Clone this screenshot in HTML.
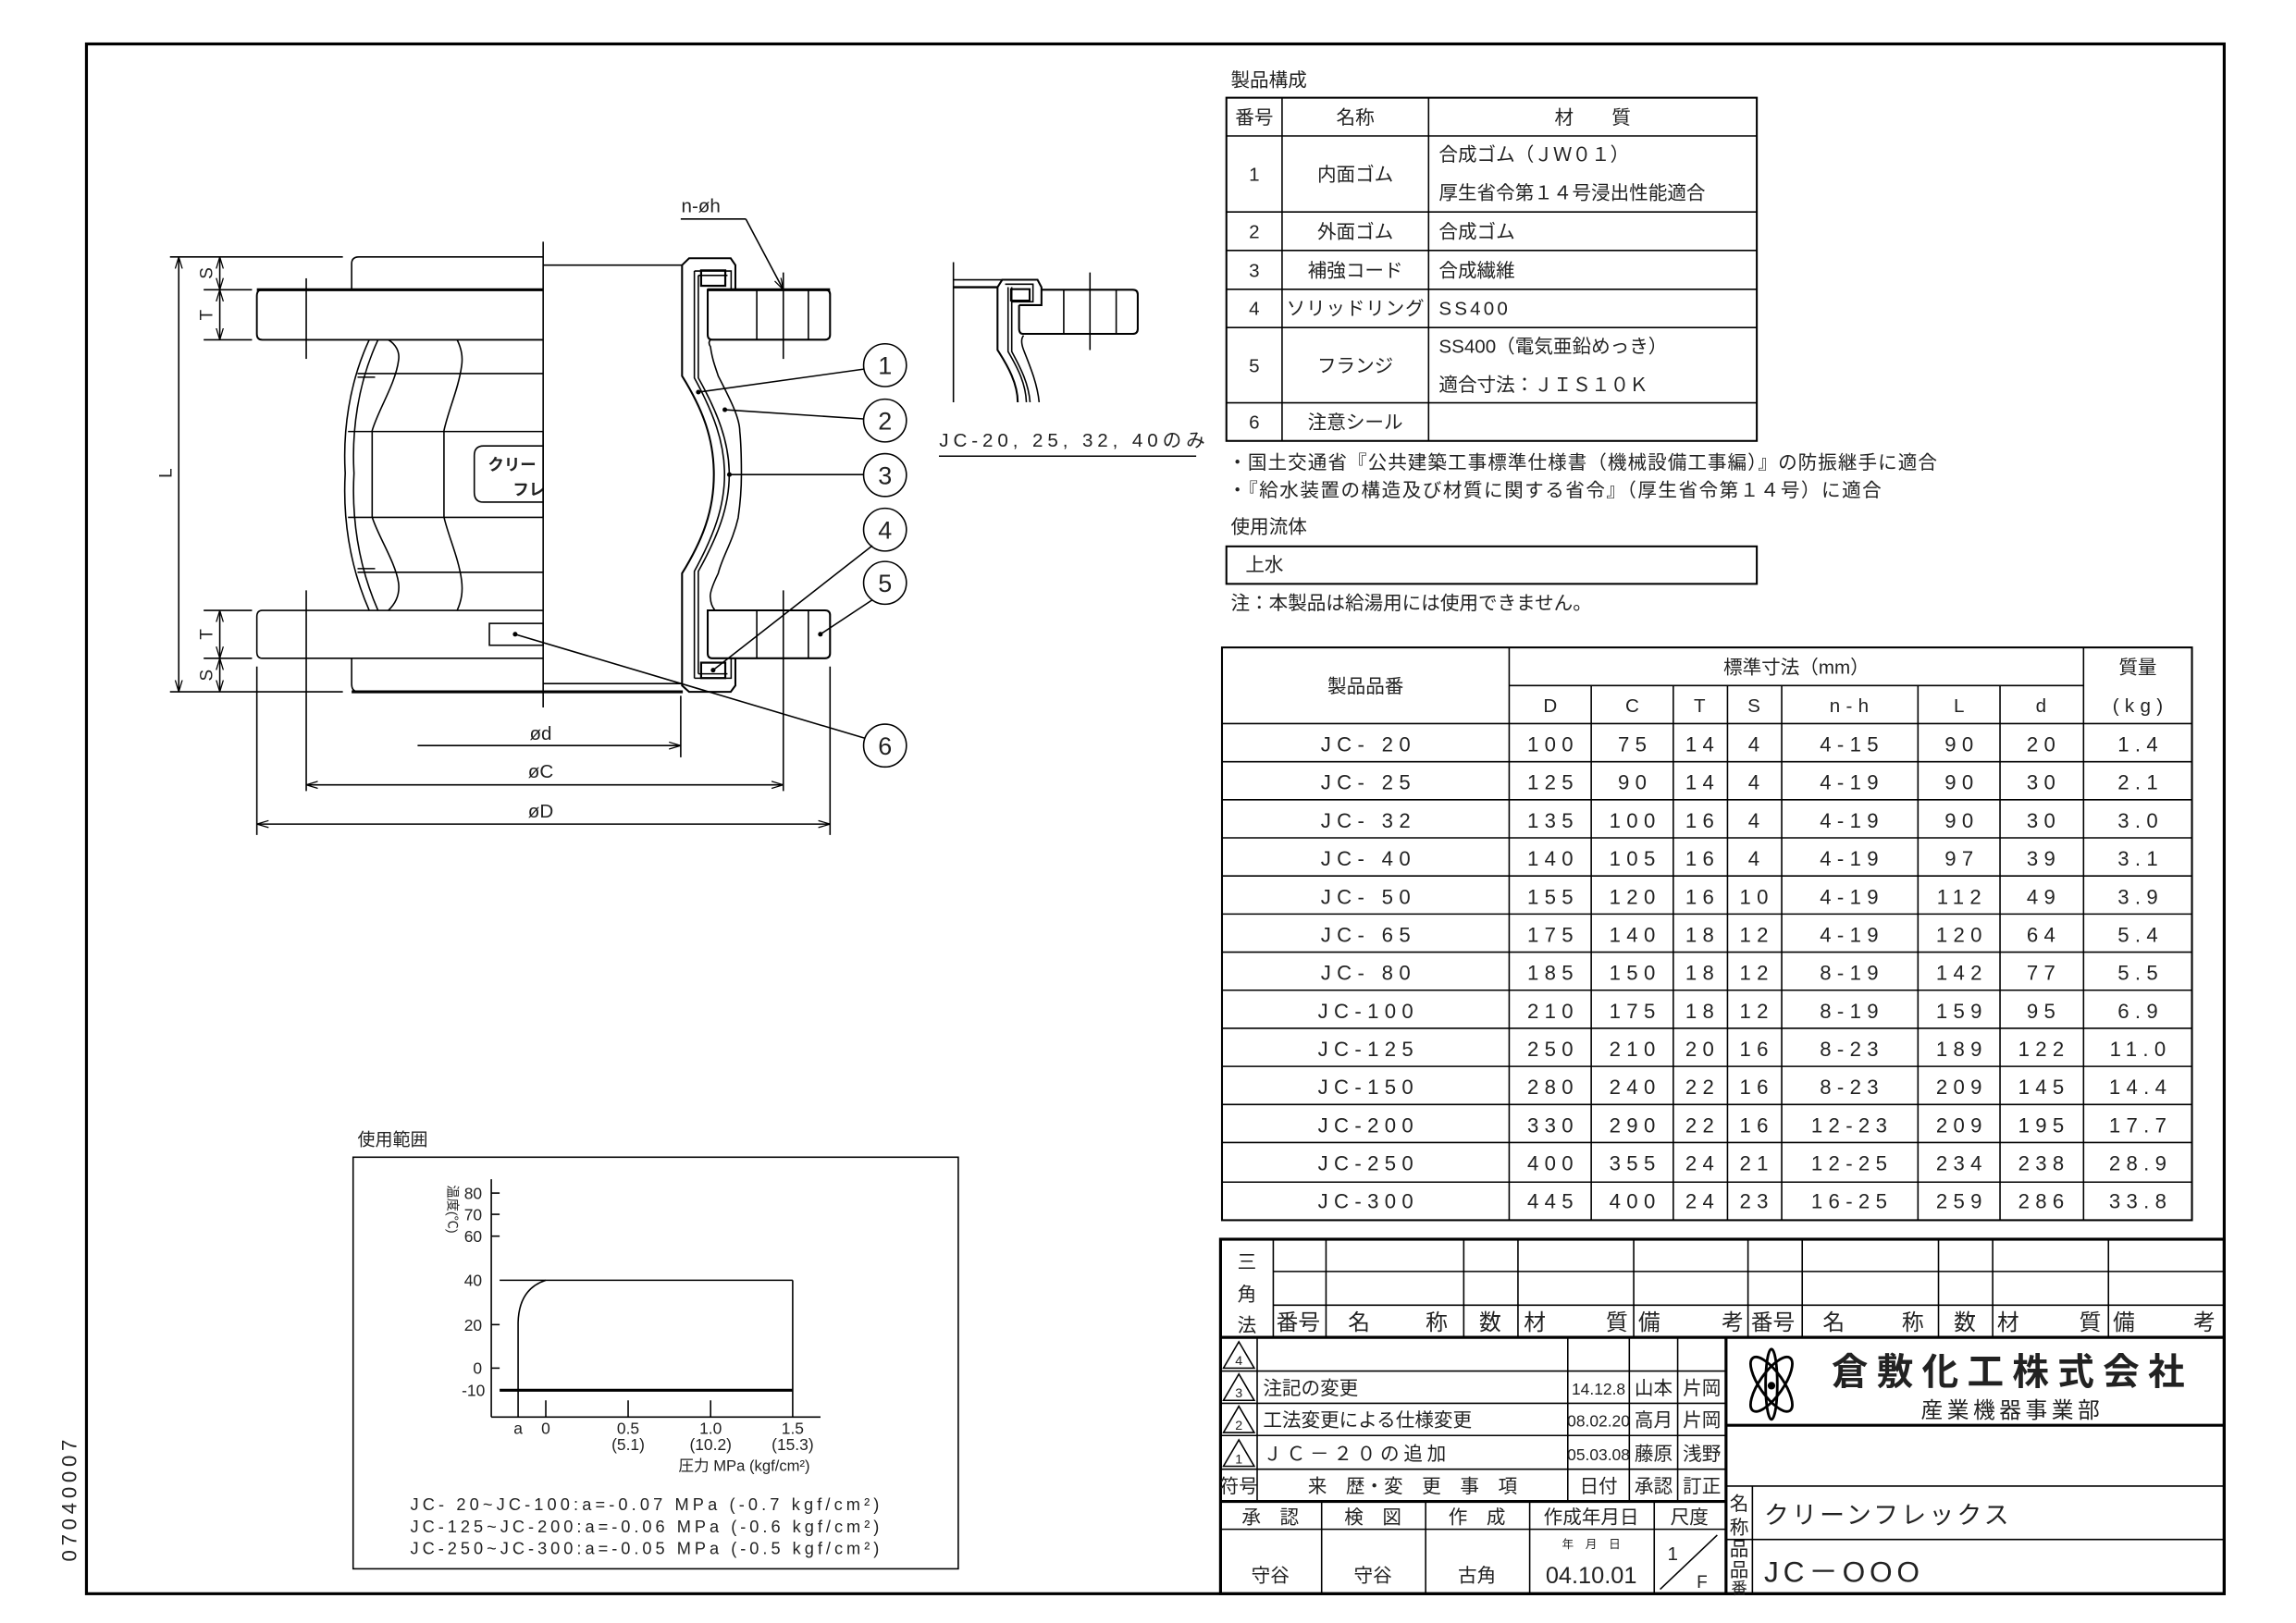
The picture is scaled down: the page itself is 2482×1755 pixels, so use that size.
<!DOCTYPE html>
<html><head><meta charset="utf-8">
<style>
html,body{margin:0;padding:0;background:#fff;}
svg{display:block;}
text{font-family:"Liberation Sans","Noto Sans CJK JP",sans-serif;fill:#222;}
.j{font-size:13px;}
.n{font-size:14px;letter-spacing:4px;text-anchor:middle;}
.c{text-anchor:middle;}
</style></head><body>
<svg width="2482" height="1755" viewBox="0 0 1567 1108" preserveAspectRatio="none" xmlns="http://www.w3.org/2000/svg">
<defs>
<marker id="ar" viewBox="0 0 10 10" refX="10" refY="5" markerWidth="8" markerHeight="8" orient="auto-start-reverse" markerUnits="userSpaceOnUse"><path d="M0,2 L10,5 L0,8" fill="none" stroke="#000" stroke-width="1"/></marker>
</defs>
<rect x="0" y="0" width="1567" height="1108" fill="#fff"/>
<!-- frame -->
<rect x="59" y="30" width="1459" height="1058" fill="none" stroke="#000" stroke-width="2"/>
<text transform="translate(52,1066) rotate(-90)" style="font-size:14px;letter-spacing:3px">07040007</text>

<!-- ===== main drawing ===== -->
<g fill="none" stroke="#000" stroke-width="1">
<line x1="370.7" y1="165" x2="370.7" y2="483"/>
<path d="M240,198 L240,180 Q240,175.4 245,175.4 L370.7,175.4"/>
<path d="M370.7,197.8 L179,197.8 Q175.3,197.8 175.3,202 L175.3,228 Q175.3,232 179,232 L370.7,232" stroke-width="1.2"/>
<line x1="175.3" y1="197.8" x2="370.7" y2="197.8" stroke-width="2"/>
<path d="M370.7,416.7 L179,416.7 Q175.3,416.7 175.3,421 L175.3,445 Q175.3,449.4 179,449.4 L370.7,449.4"/>
<path d="M240,449.4 L240,467 Q240,472.3 245,472.3 L370.7,472.3"/>
<line x1="240" y1="472.3" x2="466" y2="472.3" stroke-width="2"/>
<!-- bellows outline -->
<path d="M252,232 C238,262 234,295 235.6,323 C234,352 238,385 252,416.7"/>
<path d="M258,232 C244,262 240,295 241.6,323 C240,352 244,385 258,416.7"/>
<path d="M265,232 C270,235 273,240 272,246 C270,262 258,280 254,294 L254,353 C258,366 270,384 272,398 C273,406 270,412 265,416.7"/>
<path d="M312,232 C315,238 316,244 315,250 C313,265 306,280 303,294 L303,353 C306,366 313,381 315,396 C316,404 315,410 312,416.7"/>
<path d="M244,255 L370.7,255 M244,257.5 L256,257.5"/>
<path d="M237.5,294.6 L370.7,294.6"/>
<path d="M237.5,353.2 L370.7,353.2"/>
<path d="M244,390.7 L370.7,390.7 M244,388.2 L256,388.2"/>
<path d="M370.7,304.4 L330,304.4 Q323.7,304.4 323.7,311 L323.7,336 Q323.7,342.8 330,342.8 L370.7,342.8"/>
<rect x="334" y="425.6" width="36.7" height="14.9"/>
<line x1="370.7" y1="181" x2="465.5" y2="181"/>
<line x1="370.7" y1="466.7" x2="465.5" y2="466.7"/>
<path d="M465.5,181 L465.5,256.7 C480,280 487.2,300 487.2,324 C487.2,348 480,368 465.5,391.4 L465.5,468 L470.3,472.3 L498.7,472.3 L501.9,468 L501.9,449.4" stroke-width="1.3"/>
<path d="M465.5,181 L470.3,176.3 L498.7,176.3 L501.9,181 L501.9,197.8" stroke-width="1.3"/>
<path d="M484.9,232 Q483,234 484.9,236.7 C486,245 488,250 490.2,256.7 C498,272 504.9,285 504.9,294.6 C506,305 506,315 506,324 C506,335 505,345 503.8,353.5 C500,370 493,380 490.2,391.4 C487,398 484,405 484.9,408.3 Q485,413 488,416.7"/>
<path d="M473.9,185 L473.9,258 C487,282 494.5,302 494.5,324 C494.5,346 487,366 473.9,390 L473.9,463"/>
<path d="M476.6,188 L476.6,258 C490,282 497.7,302 497.7,324 C497.7,346 490,366 476.6,390 L476.6,460"/>
<path d="M473.9,185 L499,185 L499,197.8 M476.6,188 L496.5,188"/>
<path d="M473.9,463 L499,463 L499,449.4 M476.6,460 L496.5,460"/>
<rect x="478.5" y="184.6" width="16.5" height="10.5" stroke-width="1.4"/>
<rect x="478.5" y="452.4" width="16.5" height="10.5" stroke-width="1.4"/>
<path d="M483,197.8 L563,197.8 Q566.5,197.8 566.5,201 L566.5,228.5 Q566.5,231.9 563,231.9 L486,231.9 Q483,231.9 483,228.5 Z" stroke-width="1.3"/>
<line x1="483" y1="197.8" x2="566.5" y2="197.8" stroke-width="2"/>
<line x1="516.5" y1="197.8" x2="516.5" y2="231.9"/>
<line x1="551.7" y1="197.8" x2="551.7" y2="231.9"/>
<path d="M483,416.7 L563,416.7 Q566.5,416.7 566.5,420 L566.5,446 Q566.5,449.4 563,449.4 L486,449.4 Q483,449.4 483,446 Z" stroke-width="1.3"/>
<line x1="516.5" y1="416.7" x2="516.5" y2="449.4"/>
<line x1="551.7" y1="416.7" x2="551.7" y2="449.4"/>
<line x1="534.6" y1="186" x2="534.6" y2="245"/>
<line x1="534.6" y1="403" x2="534.6" y2="540"/>
<line x1="209" y1="190" x2="209" y2="245"/>
<line x1="209" y1="403" x2="209" y2="540"/>
<line x1="175.3" y1="455" x2="175.3" y2="570"/>
<line x1="566.5" y1="455" x2="566.5" y2="570"/>
<line x1="464.6" y1="475" x2="464.6" y2="517"/>
<line x1="285" y1="509" x2="464.6" y2="509" marker-end="url(#ar)"/>
<line x1="209" y1="535.8" x2="534.6" y2="535.8" marker-start="url(#ar)" marker-end="url(#ar)"/>
<line x1="175.3" y1="562.6" x2="566.5" y2="562.6" marker-start="url(#ar)" marker-end="url(#ar)"/>
<line x1="116" y1="175.4" x2="234" y2="175.4"/>
<line x1="116" y1="472.3" x2="234" y2="472.3"/>
<line x1="139" y1="197.8" x2="172" y2="197.8"/>
<line x1="139" y1="232" x2="172" y2="232"/>
<line x1="139" y1="416.7" x2="172" y2="416.7"/>
<line x1="139" y1="449.4" x2="172" y2="449.4"/>
<line x1="122" y1="175.4" x2="122" y2="472.3" marker-start="url(#ar)" marker-end="url(#ar)"/>
<line x1="150" y1="175.4" x2="150" y2="197.8" marker-start="url(#ar)" marker-end="url(#ar)"/>
<line x1="150" y1="197.8" x2="150" y2="232" marker-start="url(#ar)" marker-end="url(#ar)"/>
<line x1="150" y1="416.7" x2="150" y2="449.4" marker-start="url(#ar)" marker-end="url(#ar)"/>
<line x1="150" y1="449.4" x2="150" y2="472.3" marker-start="url(#ar)" marker-end="url(#ar)"/>
<line x1="464.6" y1="149.5" x2="509" y2="149.5"/>
<line x1="509" y1="149.5" x2="534.6" y2="197.8" marker-end="url(#ar)"/>
<circle cx="604" cy="249.3" r="14.6"/>
<circle cx="604" cy="287.1" r="14.6"/>
<circle cx="604" cy="324.3" r="14.6"/>
<circle cx="604" cy="361.6" r="14.6"/>
<circle cx="604" cy="397.9" r="14.6"/>
<circle cx="604" cy="509" r="14.6"/>
<line x1="589.6" y1="252" x2="476.6" y2="267.7"/>
<line x1="589.4" y1="286" x2="494.7" y2="279.7"/>
<line x1="589.4" y1="324" x2="497.8" y2="324"/>
<line x1="595.4" y1="372.5" x2="486.7" y2="457.5"/>
<line x1="595.4" y1="409.5" x2="559.9" y2="433"/>
<line x1="590" y1="503.9" x2="351.6" y2="433"/>
</g>
<g fill="#000">
<circle cx="476.6" cy="267.7" r="1.6"/><circle cx="494.7" cy="279.7" r="1.6"/><circle cx="497.8" cy="324" r="1.6"/>
<circle cx="486.7" cy="457.5" r="1.6"/><circle cx="559.9" cy="433" r="1.6"/><circle cx="351.6" cy="433" r="1.6"/>
</g>
<g style="font-size:17px" class="c">
<text x="604" y="255.5">1</text><text x="604" y="293.3">2</text><text x="604" y="330.5">3</text>
<text x="604" y="367.8">4</text><text x="604" y="404.1">5</text><text x="604" y="515.2">6</text>
</g>
<text x="333" y="321" style="font-size:11px;font-weight:bold">クリー</text>
<text x="350" y="338" style="font-size:11px;font-weight:bold">フレ</text>
<rect x="371.5" y="300" width="94" height="48" fill="#fff"/>
<line x1="370.7" y1="295" x2="370.7" y2="353" stroke="#000"/>
<text x="465" y="145" style="font-size:13px">n-øh</text>
<text x="369" y="505" class="c" style="font-size:13px">ød</text>
<text x="369" y="531" class="c" style="font-size:13px">øC</text>
<text x="369" y="558" class="c" style="font-size:13px">øD</text>
<g style="font-size:12px" class="c">
<text transform="translate(145,186.5) rotate(-90)">S</text>
<text transform="translate(145,215) rotate(-90)">T</text>
<text transform="translate(145,433) rotate(-90)">T</text>
<text transform="translate(145,461) rotate(-90)">S</text>
<text transform="translate(117,323) rotate(-90)">L</text>
</g>

<!-- detail view -->
<g fill="none" stroke="#000" stroke-width="1">
<line x1="650.7" y1="179" x2="650.7" y2="274.6"/>
<line x1="650.7" y1="191" x2="684" y2="191"/>
<line x1="650.7" y1="196.1" x2="680.8" y2="196.1" stroke-width="1.5"/>
<path d="M680.8,196.1 L684,191 L708.1,191 L710.8,196.1 L710.8,208.3 L695.5,208.3" stroke-width="1.3"/>
<path d="M710.8,197.8 L773,197.8 Q776.5,197.8 776.5,201 L776.5,224.5 Q776.5,227.9 773,227.9 L698,227.9 Q695.5,227.9 695.5,224 L695.5,208.3" stroke-width="1.3"/>
<line x1="726" y1="197.8" x2="726" y2="227.9"/>
<line x1="761.8" y1="197.8" x2="761.8" y2="227.9"/>
<line x1="743.9" y1="186" x2="743.9" y2="239"/>
<path d="M680.8,196.1 L680.8,238.9 C688,250 694.6,262 694.6,274.6" stroke-width="1.3"/>
<path d="M688,196 L688,240 C695,252 700,262 700.5,274.6 M690.5,196 L690.5,240 C697,252 702,262 703,274.6"/>
<path d="M686,194 L705,194 L705,206 L690.5,206"/>
<rect x="690" y="197.4" width="12.7" height="7.8" stroke-width="1.3"/>
<path d="M698.6,229 Q696,232 698.6,238.9 C703,250 708,262 709.2,274.6"/>
<line x1="640.8" y1="311.4" x2="816.4" y2="311.4"/>
</g>
<text x="641" y="305" style="font-size:13px;letter-spacing:3.1px">JC-20, 25, 32, 40のみ</text>

<!-- ===== parts table ===== -->
<text x="840" y="59" class="j">製品構成</text>
<g fill="none" stroke="#000" stroke-width="1">
<rect x="837" y="66.7" width="362" height="234.3" stroke-width="1.3"/>
<line x1="875" y1="66.7" x2="875" y2="301"/><line x1="975" y1="66.7" x2="975" y2="301"/>
<line x1="837" y1="92.8" x2="1199" y2="92.8"/><line x1="837" y1="144.7" x2="1199" y2="144.7"/>
<line x1="837" y1="171" x2="1199" y2="171"/><line x1="837" y1="197.5" x2="1199" y2="197.5"/>
<line x1="837" y1="223.6" x2="1199" y2="223.6"/><line x1="837" y1="275" x2="1199" y2="275"/>
<rect x="837" y="373" width="362" height="25.6" stroke-width="1.3"/>
</g>
<g class="j">
<text x="856" y="84.5" class="c">番号</text><text x="925" y="84.5" class="c">名称</text><text x="1087" y="84.5" class="c">材　　質</text>
<text x="856" y="123.5" class="c">1</text><text x="925" y="123.5" class="c">内面ゴム</text>
<text x="982" y="110">合成ゴム（ＪＷ０１）</text><text x="982" y="136">厚生省令第１４号浸出性能適合</text>
<text x="856" y="162.5" class="c">2</text><text x="925" y="162.5" class="c">外面ゴム</text><text x="982" y="162.5">合成ゴム</text>
<text x="856" y="189" class="c">3</text><text x="925" y="189" class="c">補強コード</text><text x="982" y="189">合成繊維</text>
<text x="856" y="215" class="c">4</text><text x="925" y="215" class="c" textLength="94">ソリッドリング</text><text x="982" y="215" style="letter-spacing:2px">SS400</text>
<text x="856" y="254" class="c">5</text><text x="925" y="254" class="c">フランジ</text>
<text x="982" y="241">SS400（電気亜鉛めっき）</text><text x="982" y="267">適合寸法：ＪＩＳ１０Ｋ</text>
<text x="856" y="292.5" class="c">6</text><text x="925" y="292.5" class="c">注意シール</text>
<text x="838" y="320" textLength="484">・国土交通省『公共建築工事標準仕様書（機械設備工事編）』の防振継手に適合</text>
<text x="838" y="339" textLength="446">・『給水装置の構造及び材質に関する省令』（厚生省令第１４号）に適合</text>
<text x="840" y="364">使用流体</text>
<text x="850" y="390">上水</text>
<text x="840" y="416">注：本製品は給湯用には使用できません。</text>
</g>

<!-- ===== dimension table ===== -->
<g fill="none" stroke="#000" stroke-width="1">
<rect x="834" y="442" width="662" height="391" stroke-width="1.3"/>
<line x1="1030" y1="442" x2="1030" y2="833"/>
<line x1="1422" y1="442" x2="1422" y2="833"/>
<line x1="1030" y1="468" x2="1422" y2="468"/>
<line x1="1086" y1="468" x2="1086" y2="833"/><line x1="1142" y1="468" x2="1142" y2="833"/>
<line x1="1179" y1="468" x2="1179" y2="833"/><line x1="1216" y1="468" x2="1216" y2="833"/>
<line x1="1309" y1="468" x2="1309" y2="833"/><line x1="1365" y1="468" x2="1365" y2="833"/>
<line x1="834" y1="494" x2="1496" y2="494"/><line x1="834" y1="520" x2="1496" y2="520"/>
<line x1="834" y1="546" x2="1496" y2="546"/><line x1="834" y1="572" x2="1496" y2="572"/>
<line x1="834" y1="598" x2="1496" y2="598"/><line x1="834" y1="624" x2="1496" y2="624"/>
<line x1="834" y1="650" x2="1496" y2="650"/><line x1="834" y1="676" x2="1496" y2="676"/>
<line x1="834" y1="702" x2="1496" y2="702"/><line x1="834" y1="728" x2="1496" y2="728"/>
<line x1="834" y1="754" x2="1496" y2="754"/><line x1="834" y1="780" x2="1496" y2="780"/>
<line x1="834" y1="807" x2="1496" y2="807"/>
</g>
<g class="j c">
<text x="932" y="473">製品品番</text>
<text x="1226" y="460">標準寸法（mm）</text>
<text x="1459" y="460">質量</text>
</g>
<g class="n" style="font-size:13px">
<text x="1060" y="486">D</text><text x="1116" y="486">C</text><text x="1162" y="486">T</text><text x="1199" y="486">S</text>
<text x="1264" y="486">n-h</text><text x="1339" y="486">L</text><text x="1395" y="486">d</text><text x="1461" y="486">(kg)</text>
</g>
<g class="n">
<text x="934" y="513">JC- 20</text><text x="1060" y="513">100</text><text x="1116" y="513">75</text><text x="1162" y="513">14</text><text x="1199" y="513">4</text><text x="1264" y="513">4-15</text><text x="1339" y="513">90</text><text x="1395" y="513">20</text><text x="1461" y="513">1.4</text>
<text x="934" y="539">JC- 25</text><text x="1060" y="539">125</text><text x="1116" y="539">90</text><text x="1162" y="539">14</text><text x="1199" y="539">4</text><text x="1264" y="539">4-19</text><text x="1339" y="539">90</text><text x="1395" y="539">30</text><text x="1461" y="539">2.1</text>
<text x="934" y="565">JC- 32</text><text x="1060" y="565">135</text><text x="1116" y="565">100</text><text x="1162" y="565">16</text><text x="1199" y="565">4</text><text x="1264" y="565">4-19</text><text x="1339" y="565">90</text><text x="1395" y="565">30</text><text x="1461" y="565">3.0</text>
<text x="934" y="591">JC- 40</text><text x="1060" y="591">140</text><text x="1116" y="591">105</text><text x="1162" y="591">16</text><text x="1199" y="591">4</text><text x="1264" y="591">4-19</text><text x="1339" y="591">97</text><text x="1395" y="591">39</text><text x="1461" y="591">3.1</text>
<text x="934" y="617">JC- 50</text><text x="1060" y="617">155</text><text x="1116" y="617">120</text><text x="1162" y="617">16</text><text x="1199" y="617">10</text><text x="1264" y="617">4-19</text><text x="1339" y="617">112</text><text x="1395" y="617">49</text><text x="1461" y="617">3.9</text>
<text x="934" y="643">JC- 65</text><text x="1060" y="643">175</text><text x="1116" y="643">140</text><text x="1162" y="643">18</text><text x="1199" y="643">12</text><text x="1264" y="643">4-19</text><text x="1339" y="643">120</text><text x="1395" y="643">64</text><text x="1461" y="643">5.4</text>
<text x="934" y="669">JC- 80</text><text x="1060" y="669">185</text><text x="1116" y="669">150</text><text x="1162" y="669">18</text><text x="1199" y="669">12</text><text x="1264" y="669">8-19</text><text x="1339" y="669">142</text><text x="1395" y="669">77</text><text x="1461" y="669">5.5</text>
<text x="934" y="695">JC-100</text><text x="1060" y="695">210</text><text x="1116" y="695">175</text><text x="1162" y="695">18</text><text x="1199" y="695">12</text><text x="1264" y="695">8-19</text><text x="1339" y="695">159</text><text x="1395" y="695">95</text><text x="1461" y="695">6.9</text>
<text x="934" y="721">JC-125</text><text x="1060" y="721">250</text><text x="1116" y="721">210</text><text x="1162" y="721">20</text><text x="1199" y="721">16</text><text x="1264" y="721">8-23</text><text x="1339" y="721">189</text><text x="1395" y="721">122</text><text x="1461" y="721">11.0</text>
<text x="934" y="747">JC-150</text><text x="1060" y="747">280</text><text x="1116" y="747">240</text><text x="1162" y="747">22</text><text x="1199" y="747">16</text><text x="1264" y="747">8-23</text><text x="1339" y="747">209</text><text x="1395" y="747">145</text><text x="1461" y="747">14.4</text>
<text x="934" y="773">JC-200</text><text x="1060" y="773">330</text><text x="1116" y="773">290</text><text x="1162" y="773">22</text><text x="1199" y="773">16</text><text x="1264" y="773">12-23</text><text x="1339" y="773">209</text><text x="1395" y="773">195</text><text x="1461" y="773">17.7</text>
<text x="934" y="799">JC-250</text><text x="1060" y="799">400</text><text x="1116" y="799">355</text><text x="1162" y="799">24</text><text x="1199" y="799">21</text><text x="1264" y="799">12-25</text><text x="1339" y="799">234</text><text x="1395" y="799">238</text><text x="1461" y="799">28.9</text>
<text x="934" y="825">JC-300</text><text x="1060" y="825">445</text><text x="1116" y="825">400</text><text x="1162" y="825">24</text><text x="1199" y="825">23</text><text x="1264" y="825">16-25</text><text x="1339" y="825">259</text><text x="1395" y="825">286</text><text x="1461" y="825">33.8</text>
</g>

<!-- ===== graph ===== -->
<text x="244" y="782" class="j" style="font-size:12px">使用範囲</text>
<g fill="none" stroke="#000" stroke-width="1">
<rect x="241" y="790" width="413" height="281"/>
<line x1="335.3" y1="805" x2="335.3" y2="967.4"/>
<line x1="335.3" y1="967.4" x2="560" y2="967.4"/>
<line x1="335.3" y1="814.5" x2="341" y2="814.5"/><line x1="335.3" y1="829" x2="341" y2="829"/>
<line x1="335.3" y1="843.9" x2="341" y2="843.9"/><line x1="335.3" y1="904.3" x2="341" y2="904.3"/>
<line x1="335.3" y1="934" x2="341" y2="934"/>
<line x1="341" y1="874" x2="541" y2="874"/>
<line x1="541" y1="874" x2="541" y2="967.4"/>
<line x1="341" y1="949.1" x2="541" y2="949.1" stroke-width="2"/>
<path d="M353.6,967.4 L353.6,902.8 C354,888 360,878 372.5,874"/>
<line x1="372.5" y1="956" x2="372.5" y2="967.4"/><line x1="428.7" y1="956" x2="428.7" y2="967.4"/>
<line x1="485" y1="956" x2="485" y2="967.4"/>
</g>
<g style="font-size:11px;text-anchor:end">
<text x="329" y="818.5">80</text><text x="329" y="833">70</text><text x="329" y="848">60</text>
<text x="329" y="878">40</text><text x="329" y="908.5">20</text><text x="329" y="938">0</text><text x="331" y="953">-10</text>
</g>
<g style="font-size:11px" class="c">
<text x="353.6" y="979">a</text><text x="372.5" y="979">0</text><text x="428.7" y="979">0.5</text>
<text x="485" y="979">1.0</text><text x="541" y="979">1.5</text>
<text x="428.7" y="990">(5.1)</text><text x="485" y="990">(10.2)</text><text x="541" y="990">(15.3)</text>
</g>
<text x="463" y="1004" style="font-size:10.5px">圧力 MPa (kgf/cm²)</text>
<text transform="translate(306,809) rotate(90)" style="font-size:9px">温度(℃)</text>
<g style="font-size:11.5px">
<text x="280" y="1031" textLength="320">JC- 20~JC-100:a=-0.07 MPa (-0.7 kgf/cm²)</text>
<text x="280" y="1046" textLength="320">JC-125~JC-200:a=-0.06 MPa (-0.6 kgf/cm²)</text>
<text x="280" y="1061" textLength="320">JC-250~JC-300:a=-0.05 MPa (-0.5 kgf/cm²)</text>
</g>

<!-- ===== title block ===== -->
<g fill="none" stroke="#000" stroke-width="1">
<rect x="833" y="846" width="685" height="242" stroke-width="2"/>
<line x1="869" y1="868" x2="1518" y2="868"/><line x1="869" y1="891" x2="1518" y2="891"/>
<line x1="833" y1="913" x2="1518" y2="913" stroke-width="2"/>
<line x1="869" y1="846" x2="869" y2="913"/><line x1="905" y1="846" x2="905" y2="913"/>
<line x1="999" y1="846" x2="999" y2="913"/><line x1="1036" y1="846" x2="1036" y2="913"/>
<line x1="1115" y1="846" x2="1115" y2="913"/><line x1="1193" y1="846" x2="1193" y2="913"/>
<line x1="1230" y1="846" x2="1230" y2="913"/><line x1="1323" y1="846" x2="1323" y2="913"/>
<line x1="1360" y1="846" x2="1360" y2="913"/><line x1="1439" y1="846" x2="1439" y2="913"/>
<line x1="833" y1="936" x2="1178" y2="936"/><line x1="833" y1="958" x2="1178" y2="958"/>
<line x1="833" y1="980" x2="1178" y2="980"/><line x1="833" y1="1003" x2="1178" y2="1003"/>
<line x1="833" y1="1025" x2="1178" y2="1025" stroke-width="2"/>
<line x1="858" y1="913" x2="858" y2="1025"/><line x1="1070" y1="913" x2="1070" y2="1025"/>
<line x1="1112" y1="913" x2="1112" y2="1025"/><line x1="1145" y1="913" x2="1145" y2="1025"/>
<line x1="1178" y1="913" x2="1178" y2="1088" stroke-width="2"/>
<line x1="833" y1="1044" x2="1178" y2="1044"/>
<line x1="902" y1="1025" x2="902" y2="1088"/><line x1="973" y1="1025" x2="973" y2="1088"/>
<line x1="1044" y1="1025" x2="1044" y2="1088"/><line x1="1129" y1="1025" x2="1129" y2="1088"/>
<line x1="1133" y1="1085" x2="1172" y2="1048"/>
<line x1="1178" y1="973" x2="1518" y2="973" stroke-width="2"/>
<line x1="1178" y1="1014.5" x2="1518" y2="1014.5"/>
<line x1="1178" y1="1051" x2="1518" y2="1051"/>
<line x1="1196" y1="1014.5" x2="1196" y2="1088"/>
<path d="M845.5,916 L835,934 L856,934 Z"/><path d="M845.5,938 L835,956 L856,956 Z"/>
<path d="M845.5,960 L835,978 L856,978 Z"/><path d="M845.5,983 L835,1001 L856,1001 Z"/>
<ellipse cx="1209" cy="945" rx="22" ry="8" transform="rotate(-55 1209 945)" stroke-width="1.8"/>
<ellipse cx="1209" cy="945" rx="22" ry="8" transform="rotate(55 1209 945)" stroke-width="1.8"/>
<ellipse cx="1209" cy="945" rx="4" ry="24" stroke-width="1.8"/>
</g>
<circle cx="1209" cy="946" r="2.6" fill="#000"/>
<g class="j">
<text x="851" y="866" class="c">三</text><text x="851" y="888" class="c">角</text><text x="851" y="909" class="c">法</text>
<text x="871" y="908" style="font-size:15px">番号</text><text x="920" y="908" style="font-size:15px">名</text><text x="973" y="908" style="font-size:15px">称</text>
<text x="1017" y="908" class="c" style="font-size:15px">数</text><text x="1040" y="908" style="font-size:15px">材</text><text x="1096" y="908" style="font-size:15px">質</text>
<text x="1118" y="908" style="font-size:15px">備</text><text x="1175" y="908" style="font-size:15px">考</text>
<text x="1195" y="908" style="font-size:15px">番号</text><text x="1244" y="908" style="font-size:15px">名</text><text x="1298" y="908" style="font-size:15px">称</text>
<text x="1341" y="908" class="c" style="font-size:15px">数</text><text x="1363" y="908" style="font-size:15px">材</text><text x="1419" y="908" style="font-size:15px">質</text>
<text x="1442" y="908" style="font-size:15px">備</text><text x="1497" y="908" style="font-size:15px">考</text>
</g>
<g style="font-size:9px" class="c"><text x="845.5" y="932">4</text><text x="845.5" y="954">3</text><text x="845.5" y="976">2</text><text x="845.5" y="999">1</text></g>
<g class="j">
<text x="862" y="952">注記の変更</text>
<text x="862" y="974">工法変更による仕様変更</text>
<text x="862" y="997" style="letter-spacing:3px">ＪＣ－２０の追加</text>
<text x="1091" y="952" class="c" style="font-size:11px">14.12.8</text><text x="1128.5" y="952" class="c">山本</text><text x="1161.5" y="952" class="c">片岡</text>
<text x="1091" y="974" class="c" style="font-size:11px">08.02.20</text><text x="1128.5" y="974" class="c">高月</text><text x="1161.5" y="974" class="c">片岡</text>
<text x="1091" y="997" class="c" style="font-size:11px">05.03.08</text><text x="1128.5" y="997" class="c">藤原</text><text x="1161.5" y="997" class="c">浅野</text>
<text x="845.5" y="1019" class="c">符号</text><text x="964" y="1019" class="c">来　歴・変　更　事　項</text>
<text x="1091" y="1019" class="c">日付</text><text x="1128.5" y="1019" class="c">承認</text><text x="1161.5" y="1019" class="c">訂正</text>
<text x="867" y="1040" class="c">承　認</text><text x="937" y="1040" class="c">検　図</text><text x="1008" y="1040" class="c">作　成</text>
<text x="1086" y="1040" class="c">作成年月日</text><text x="1153" y="1040" class="c">尺度</text>
<text x="867" y="1080" class="c">守谷</text><text x="937" y="1080" class="c">守谷</text><text x="1008" y="1080" class="c">古角</text>
<text x="1086" y="1057" class="c" style="font-size:8px">年　月　日</text>
<text x="1086" y="1081" class="c" style="font-size:16px">04.10.01</text>
<text x="1138" y="1065" style="font-size:13px">1</text><text x="1158" y="1084" style="font-size:12px">F</text>
<text x="1187" y="1031" class="c">名</text><text x="1187" y="1047" class="c">称</text>
<text x="1187" y="1062" class="c">品</text><text x="1187" y="1076" class="c">品</text><text x="1187" y="1088" class="c" style="font-size:11px">番</text>
<text x="1204" y="1040" style="font-size:17px;letter-spacing:2px">クリーンフレックス</text>
<text x="1204" y="1080" style="font-size:20px;letter-spacing:3px">JC－OOO</text>
</g>
<text x="1250" y="945" style="font-size:25px;font-weight:bold;letter-spacing:1px" textLength="242">倉敷化工株式会社</text>
<text x="1311" y="968" style="font-size:15px" textLength="122">産業機器事業部</text>
</svg>
</body></html>
